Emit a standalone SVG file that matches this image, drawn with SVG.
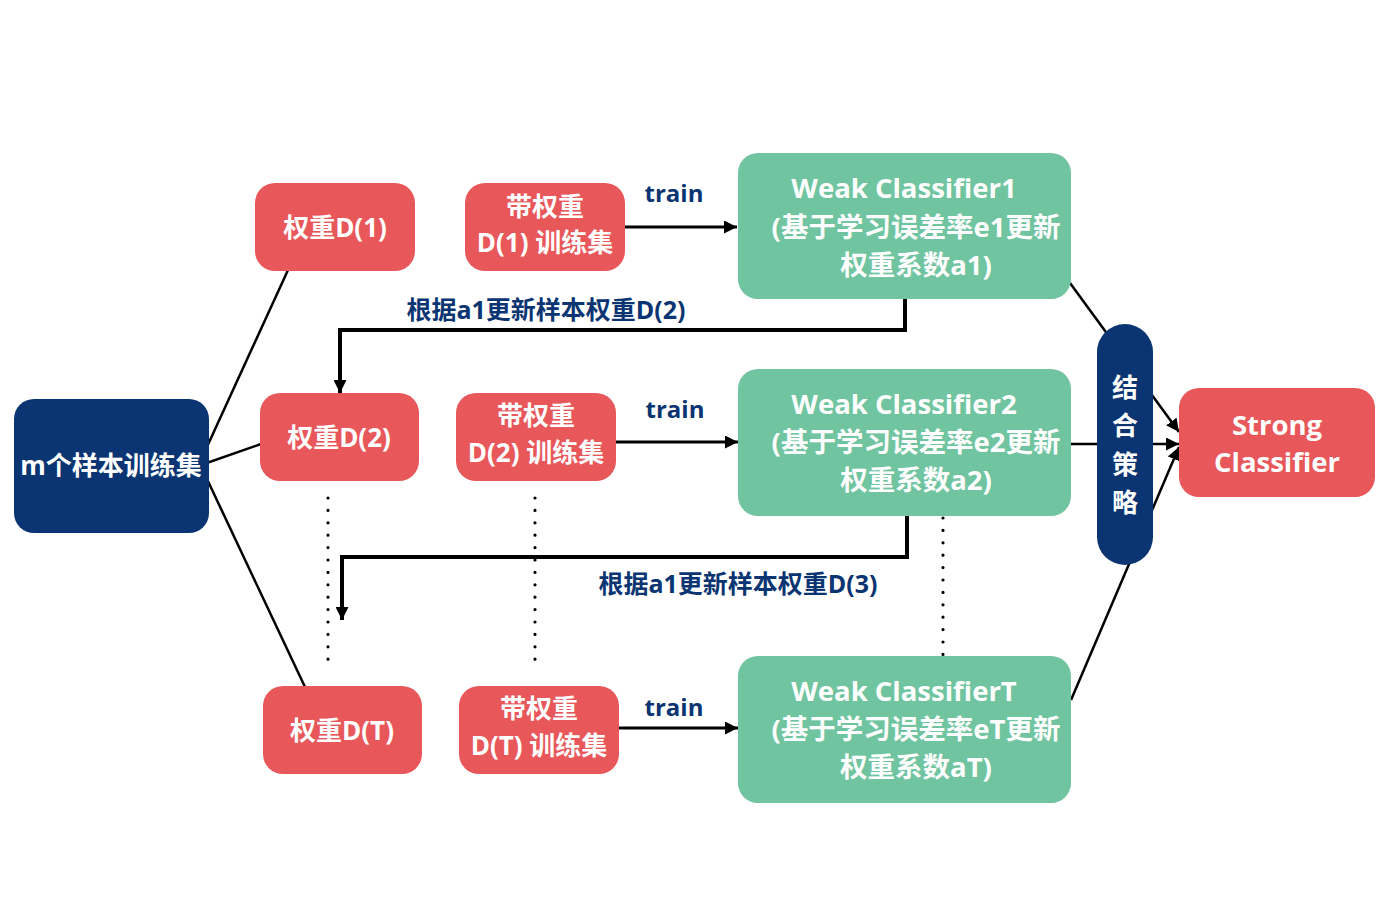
<svg xmlns="http://www.w3.org/2000/svg" width="1392" height="904" viewBox="0 0 1392 904">
<style>
.red{fill:#E8575A}
.green{fill:#70C4A0}
.navy{fill:#0A3572}
.t{font-family:"Open Sans","Noto Sans CJK SC",sans-serif;font-weight:bold;font-size:26px;fill:#fff;text-anchor:middle;dominant-baseline:central}
.big{font-size:27.5px}
.lbl{font-family:"Open Sans","Noto Sans CJK SC",sans-serif;font-weight:bold;font-size:24px;fill:#0A3572;text-anchor:middle;dominant-baseline:central}
.lbl2{font-size:25px}
.ln{stroke:#000;stroke-width:2.5;fill:none}
.ar{stroke:#000;stroke-width:3;fill:none;marker-end:url(#ah)}
.fb{stroke:#000;stroke-width:4;fill:none;marker-end:url(#ah)}
.dot{stroke:#000;stroke-width:3.2;stroke-linecap:round;stroke-dasharray:0 12.4;fill:none}
</style>
<defs>
<marker id="ah" markerUnits="userSpaceOnUse" markerWidth="13" markerHeight="13" viewBox="0 0 10 10" refX="10" refY="5" orient="auto">
<path d="M0,0 L10,5 L0,10 z" fill="#000"/>
</marker>
</defs>
<rect width="1392" height="904" fill="#fff"/>
<g id="connectors">
<line class="ln" x1="206" y1="449" x2="288" y2="270"/>
<line class="ln" x1="201" y1="465" x2="261" y2="444"/>
<line class="ln" x1="206" y1="477" x2="305" y2="687"/>
<line class="ar" x1="624" y1="227" x2="737" y2="227"/>
<line class="ar" x1="615" y1="442" x2="738" y2="442"/>
<line class="ar" x1="618" y1="728" x2="738" y2="728"/>
<polyline class="fb" points="905,299 905,330 340,330 340,393"/>
<polyline class="fb" points="907,515 907,557 342,557 342,620"/>
<line class="dot" x1="328" y1="498" x2="328" y2="660"/>
<line class="dot" x1="535" y1="498" x2="535" y2="660"/>
<line class="dot" x1="943" y1="518" x2="943" y2="655"/>
<line class="ln" x1="1070" y1="283" x2="1179" y2="432" style="marker-end:url(#ah)"/>
<line class="ln" x1="1070" y1="444" x2="1179" y2="444" style="marker-end:url(#ah)"/>
<line class="ln" x1="1071" y1="700" x2="1179" y2="447" style="marker-end:url(#ah)"/>
<text class="lbl" x="674" y="192">train</text>
<text class="lbl" x="675" y="408">train</text>
<text class="lbl" x="674" y="706">train</text>
<text class="lbl lbl2" x="546" y="309">根据a1更新样本权重D(2)</text>
<text class="lbl lbl2" x="738" y="583">根据a1更新样本权重D(3)</text>
</g>
<g id="samples">
<rect class="navy" x="14" y="399" width="195" height="134" rx="20"/>
<text class="t" x="111" y="465">m个样本训练集</text>
</g>
<g id="w1">
<rect class="red" x="255" y="183" width="160" height="88" rx="20"/>
<text class="t" x="335" y="227">权重D(1)</text>
</g>
<g id="w2">
<rect class="red" x="260" y="393" width="159" height="88" rx="20"/>
<text class="t" x="339" y="437">权重D(2)</text>
</g>
<g id="wT">
<rect class="red" x="263" y="686" width="159" height="88" rx="20"/>
<text class="t" x="342" y="730">权重D(T)</text>
</g>
<g id="s1">
<rect class="red" x="465" y="183" width="160" height="88" rx="20"/>
<text class="t" x="545" y="206">带权重</text>
<text class="t" x="545" y="242">D(1) 训练集</text>
</g>
<g id="s2">
<rect class="red" x="456" y="393" width="160" height="88" rx="20"/>
<text class="t" x="536" y="415">带权重</text>
<text class="t" x="536" y="452">D(2) 训练集</text>
</g>
<g id="sT">
<rect class="red" x="459" y="686" width="160" height="88" rx="20"/>
<text class="t" x="539" y="708">带权重</text>
<text class="t" x="539" y="745">D(T) 训练集</text>
</g>
<g id="wc1">
<rect class="green" x="738" y="153" width="333" height="146" rx="20"/>
<text class="t big" x="904" y="187">Weak Classifier1</text>
<text class="t big" x="916" y="226">(基于学习误差率e1更新</text>
<text class="t big" x="916" y="264">权重系数a1)</text>
</g>
<g id="wc2">
<rect class="green" x="738" y="369" width="333" height="147" rx="20"/>
<text class="t big" x="904" y="403">Weak Classifier2</text>
<text class="t big" x="916" y="441">(基于学习误差率e2更新</text>
<text class="t big" x="916" y="479">权重系数a2)</text>
</g>
<g id="wcT">
<rect class="green" x="738" y="656" width="333" height="147" rx="20"/>
<text class="t big" x="904" y="690">Weak ClassifierT</text>
<text class="t big" x="916" y="728">(基于学习误差率eT更新</text>
<text class="t big" x="916" y="766">权重系数aT)</text>
</g>
<g id="combine">
<rect class="navy" x="1097" y="324" width="56" height="241" rx="28"/>
<text class="t" x="1125" y="387">结</text>
<text class="t" x="1125" y="425">合</text>
<text class="t" x="1125" y="464">策</text>
<text class="t" x="1125" y="502">略</text>
</g>
<g id="strong">
<rect class="red" x="1179" y="388" width="196" height="109" rx="20"/>
<text class="t big" x="1277" y="424">Strong</text>
<text class="t big" x="1277" y="461">Classifier</text>
</g>
</svg>
